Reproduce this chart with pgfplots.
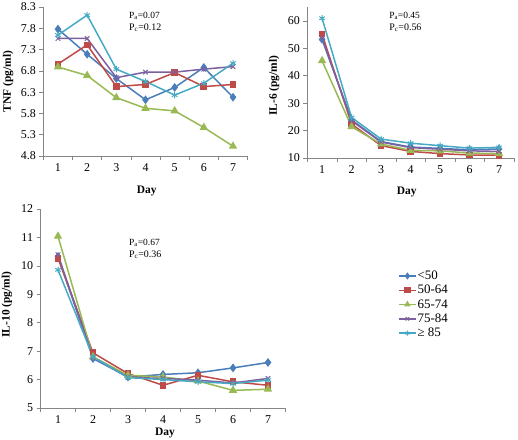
\documentclass[border=0pt]{standalone}
\usepackage{fontspec}
\setmainfont{Liberation Serif}
\usepackage{pgfplots}
\usepackage{pgfplotstable}
\pgfplotsset{compat=1.18}
\definecolor{cA}{HTML}{4A7EBB}
\definecolor{cB}{HTML}{BE4B48}
\definecolor{cC}{HTML}{98B954}
\definecolor{cD}{HTML}{7D60A0}
\definecolor{cE}{HTML}{46AAC5}
\definecolor{axgray}{HTML}{868686}

\pgfplotstableread{
day a b c d e
1 7.78 6.96 6.89 7.56 7.64
2 7.19 7.41 6.69 7.56 8.11
3 6.62 6.43 6.17 6.64 6.84
4 6.12 6.48 5.92 6.77 6.55
5 6.41 6.76 5.86 6.77 6.23
6 6.88 6.43 5.47 6.84 6.51
7 6.18 6.48 5.03 6.90 6.98
}\tnf

\pgfplotstableread{
day a b c d e
1 53.3 55.2 45.5 53.6 61.0
2 23.9 22.4 21.4 23.6 24.8
3 16.0 14.5 15.1 15.8 16.9
4 14.0 12.4 12.8 13.8 15.4
5 13.5 11.6 12.6 13.2 14.5
6 13.0 11.1 11.8 12.6 13.6
7 13.3 11.0 11.6 12.4 13.9
}\ilsix

\pgfplotstableread{
day a b c d e
1 10.33 10.27 11.04 10.39 9.86
2 6.74 6.94 6.80 6.78 6.80
3 6.09 6.21 6.15 6.08 6.07
4 6.18 5.80 6.09 6.04 6.00
5 6.24 6.15 5.95 5.98 5.92
6 6.41 5.92 5.62 5.88 5.86
7 6.60 5.80 5.66 6.04 5.98
}\ilten

\pgfplotsset{
  myaxis/.style={
    scale only axis,
    anchor=south west,
    axis lines*=left,
    axis line style={draw=axgray, line width=0.6bp},
    xmin=0.5, xmax=7.5,
    xtick={1,...,7},
    minor xtick={0.5,1.5,...,7.5},
    tick align=outside,
    major tick length=4bp,
    minor tick length=4bp,
    tick style={draw=axgray, line width=0.6bp},
    major x tick style={draw=none},
    ticklabel style={font=\fontsize{12}{14}\selectfont, text=black},
    /pgf/number format/assume math mode=true,
    label style={font=\bfseries\fontsize{11.5}{13}\selectfont},
    xlabel={Day},
    xlabel style={anchor=center},
    ylabel style={anchor=center, rotate=0},
    clip=false,
  },
  s1/.style={color=cA, line width=1.5bp, mark=diamond*, mark size=3.2bp, mark options={solid}},
  s2/.style={color=cB, line width=1.5bp, mark=square*, mark size=2.6bp, mark options={solid}},
  s3/.style={color=cC, line width=1.5bp, mark=triangle*, mark size=3.4bp, mark options={solid}},
  s4/.style={color=cD, line width=1.5bp, mark=x, mark size=3.2bp, mark options={solid, line width=1bp}},
  s5/.style={color=cE, line width=1.5bp, mark=asterisk, mark size=3.2bp, mark options={solid, line width=1bp}},
}
\newcommand{\ptext}[2]{\fontsize{9.5}{12}\selectfont P\textsubscript{a}=#1\\P\textsubscript{c}=#2}

\begin{document}
\begin{tikzpicture}[x=1bp,y=1bp]
\useasboundingbox (0,0) rectangle (518,440);

% TNF
\begin{axis}[myaxis,
  at={(43.4bp,284bp)}, width=204.2bp, height=149bp,
  ymin=4.8, ymax=8.3, ytick={4.8,5.3,...,8.4},
  yticklabel style={/pgf/number format/.cd, fixed, fixed zerofill, precision=1},
  ylabel={TNF (pg/ml)},
  xlabel style={at={(axis description cs:0.506,-0.235)}},
  ylabel style={at={(axis description cs:-0.173,0.5)}},
]
\addplot[s1] table[x=day,y=a]{\tnf};
\addplot[s2] table[x=day,y=b]{\tnf};
\addplot[s3] table[x=day,y=c]{\tnf};
\addplot[s4] table[x=day,y=d]{\tnf};
\addplot[s5] table[x=day,y=e]{\tnf};
\node[anchor=north west, align=left, inner sep=0pt] at (rel axis cs:0.419,0.966) {\ptext{0.07}{0.12}};
\end{axis}

% IL-6
\begin{axis}[myaxis,
  at={(307.3bp,282bp)}, width=206.5bp, height=150.7bp,
  ymin=10, ymax=65, ytick={10,20,...,60},
  ylabel={IL-6 (pg/ml)},
  xlabel style={at={(axis description cs:0.481,-0.226)}},
  ylabel style={at={(axis description cs:-0.161,0.48)}},
]
\addplot[s1] table[x=day,y=a]{\ilsix};
\addplot[s2] table[x=day,y=b]{\ilsix};
\addplot[s3] table[x=day,y=c]{\ilsix};
\addplot[s4] table[x=day,y=d]{\ilsix};
\addplot[s5] table[x=day,y=e]{\ilsix};
\node[anchor=north west, align=left, inner sep=0pt] at (rel axis cs:0.396,0.969) {\ptext{0.45}{0.56}};
\end{axis}

% IL-10
\begin{axis}[myaxis,
  at={(40.5bp,32bp)}, width=245bp, height=199bp,
  ymin=5, ymax=12, ytick={5,6,...,12},
  ylabel={IL-10 (pg/ml)},
  xlabel style={at={(axis description cs:0.508,-0.128)}},
  ylabel style={at={(axis description cs:-0.137,0.52)}},
  legend style={at={(axis description cs:1.459,0.695)}, anchor=north west,
    draw=none, fill=none, inner sep=0pt, row sep=2.2bp,
    font=\fontsize{13}{14}\selectfont,
    nodes={inner sep=1bp, text=black}},
  legend cell align=left,
  legend image code/.code={\draw[mark repeat=2,mark phase=2, mark size=2.4bp] plot coordinates {(0bp,0bp) (8.5bp,0bp) (17bp,0bp)};},
]
\addplot[s1] table[x=day,y=a]{\ilten};
\addplot[s2] table[x=day,y=b]{\ilten};
\addplot[s3] table[x=day,y=c]{\ilten};
\addplot[s4] table[x=day,y=d]{\ilten};
\addplot[s5] table[x=day,y=e]{\ilten};
\legend{<50,50-64,65-74,75-84,≥ 85}
\node[anchor=north west, align=left, inner sep=0pt] at (rel axis cs:0.361,0.849) {\ptext{0.67}{0.36}};
\end{axis}
\end{tikzpicture}
\end{document}
